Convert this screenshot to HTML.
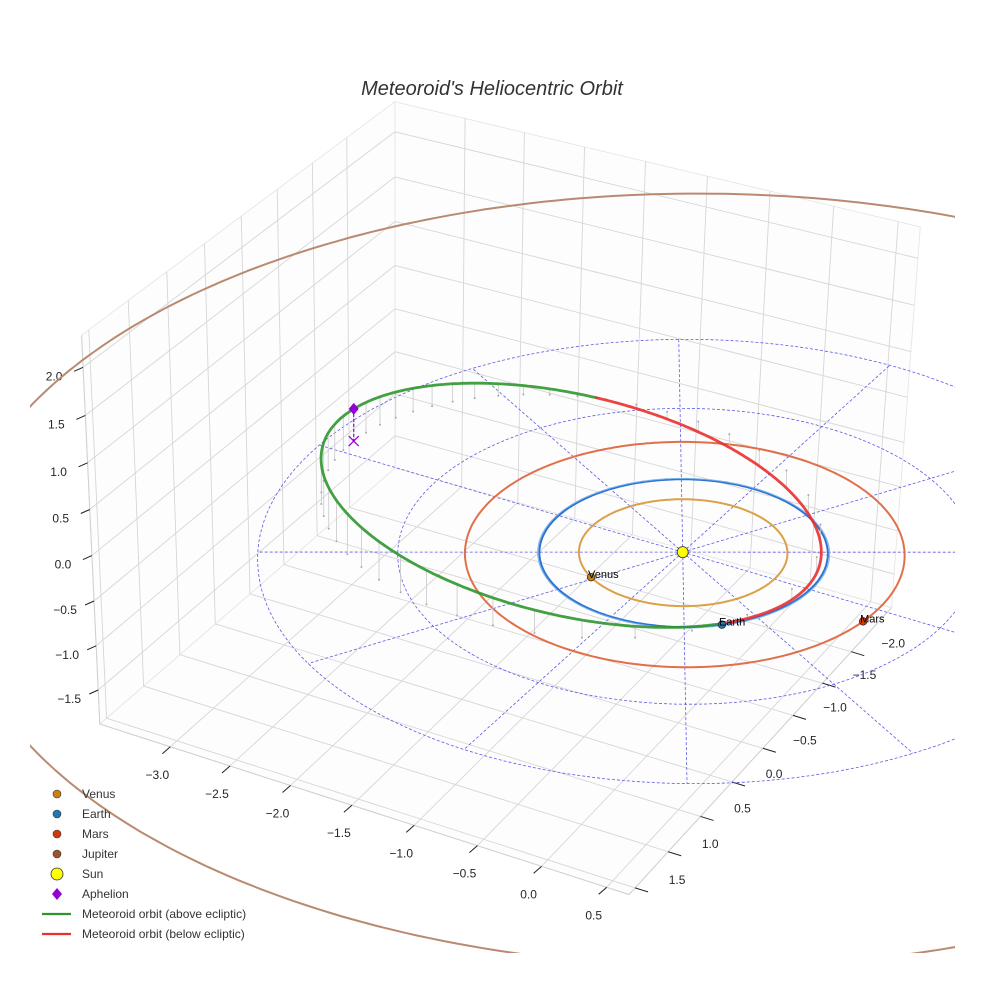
<!DOCTYPE html>
<html><head><meta charset="utf-8"><style>
html,body{margin:0;padding:0;background:#fff;overflow:hidden;}
svg{display:block;font-family:"Liberation Sans",sans-serif;}
</style></head><body>
<svg id="chart" width="984" height="984" viewBox="0 0 984 984" xmlns="http://www.w3.org/2000/svg">
<defs><clipPath id="clipArea"><rect x="30" y="0" width="925" height="953"/></clipPath></defs>
<rect width="984" height="984" fill="#fff"/>
<text x="492" y="95" text-anchor="middle" font-size="20" font-style="italic" fill="#333">Meteoroid's Heliocentric Orbit</text>
<g id="grid"></g>
<g id="axes"></g>
<g id="data" clip-path="url(#clipArea)"></g>
<g id="legend"></g>
</svg>
<script>
// ---- data ----
const xTicks=[-3,-2.5,-2,-1.5,-1,-0.5,0,0.5];
const yTicks=[-2,-1.5,-1,-0.5,0,0.5,1,1.5];
const zTicks=[-1.5,-1,-0.5,0,0.5,1,1.5,2];
const xRange=[-3.6,0.67], yRange=[-2.72,1.59], zRange=[-1.89,2.33];
const planetNames=["Venus","Earth","Mars","Jupiter"];
const planetRadii=[0.723,1.0,1.524,5.203];
const planetAngles=[122,45,7,160];
const gridRadii=[1,2,3];
const gridAngles=[0,30,60,90,120,150,180,210,240,270,300,330];
// meteoroid orbital elements: a (AU), e, i (deg), node (deg), arg perihelion (deg)
const orbitA=1.87, orbitE=0.519, orbitI=11, orbitNode=45, orbitArgPeri=-42;

// ---- camera calibration: axes box ----
const calib=[
 [xRange[0],yRange[1],zRange[0],100,725],[xRange[1],yRange[1],zRange[0],629,895],
 [xRange[1],yRange[0],zRange[0],893,606],[xRange[0],yRange[1],zRange[1],81,335],
 [xRange[1],yRange[0],zRange[1],921,228],[xRange[0],yRange[0],zRange[1],394,102],
 [-3,yRange[1],zRange[0],170,747],[0.5,yRange[1],zRange[0],606,887],
 [xRange[1],-2,zRange[0],850,652],[xRange[1],1.5,zRange[0],635,888],
 [xRange[0],yRange[1],2,84,366],[xRange[0],yRange[1],-1.5,99,690]];
// ---- camera calibration: ecliptic plane (radius, angle deg -> screen) ----
const eclCalib=[[0,0,679,552],
 [1,150,533,552],[1,330,820,552],[1,240,679,482],[1,60,679,625],
 [1.524,150,479,552],[1.524,330,912,552],[1.524,240,679,438],[1.524,60,679,662],
 [3,150,254,552],[3,240,679,348],[3,60,698,788],[5.203,240,680,190]];
const zPixelsPerUnit=92;
function solveLin(A,b){const n=b.length;for(let i=0;i<n;i++){let m=i;for(let k=i+1;k<n;k++)if(Math.abs(A[k][i])>Math.abs(A[m][i]))m=k;[A[i],A[m]]=[A[m],A[i]];[b[i],b[m]]=[b[m],b[i]];for(let k=i+1;k<n;k++){const f=A[k][i]/A[i][i];for(let j=i;j<n;j++)A[k][j]-=f*A[i][j];b[k]-=f*b[i];}}const x=new Array(n).fill(0);for(let i=n-1;i>=0;i--){let s=b[i];for(let j=i+1;j<n;j++)s-=A[i][j]*x[j];x[i]=s/A[i][i];}return x;}
function lsq(rows,n){const N=[...Array(n)].map(()=>new Array(n).fill(0)),c=new Array(n).fill(0);rows.forEach(([r,t])=>{for(let i=0;i<n;i++){c[i]+=r[i]*t;for(let j=0;j<n;j++)N[i][j]+=r[i]*r[j];}});return solveLin(N,c);}
const boxRows=[];calib.forEach(([X,Y,Z,u,v])=>{boxRows.push([[X,Y,Z,1,0,0,0,0,-u*X,-u*Y,-u*Z],u]);boxRows.push([[0,0,0,0,X,Y,Z,1,-v*X,-v*Y,-v*Z],v]);});
const P=lsq(boxRows,11);
function proj(x,y,z){const w=P[8]*x+P[9]*y+P[10]*z+1;return[(P[0]*x+P[1]*y+P[2]*z+P[3])/w,(P[4]*x+P[5]*y+P[6]*z+P[7])/w];}
const eRows=[];eclCalib.forEach(([r,a,u,v])=>{const X=r*Math.cos(a*Math.PI/180),Y=r*Math.sin(a*Math.PI/180);eRows.push([[X,Y,1,0,0,0,-u*X,-u*Y],u]);eRows.push([[0,0,0,X,Y,1,-v*X,-v*Y],v]);});
const H=lsq(eRows,8);
function dproj(x,y,z){const w=H[6]*x+H[7]*y+1;return[(H[0]*x+H[1]*y+H[2])/w,(H[3]*x+H[4]*y+H[5]-zPixelsPerUnit*(z||0))/w];}
const NS="http://www.w3.org/2000/svg";
function mk(tag,attrs,parent){const e=document.createElementNS(NS,tag);for(const k in attrs)e.setAttribute(k,attrs[k]);parent.appendChild(e);return e;}
function line3(a,b,st,parent){const p=proj(...a),q=proj(...b);return mk('line',{x1:p[0],y1:p[1],x2:q[0],y2:q[1],...st},parent);}
function dline3(a,b,st,parent){const p=dproj(...a),q=dproj(...b);return mk('line',{x1:p[0],y1:p[1],x2:q[0],y2:q[1],...st},parent);}
function pathFrom(pts){return pts.map((p,i)=>(i?'L':'M')+p[0].toFixed(1)+' '+p[1].toFixed(1)).join('');}
const gG=document.getElementById('grid'),gA=document.getElementById('axes'),gD=document.getElementById('data'),gL=document.getElementById('legend');
const [X0,X1]=xRange,[Y0,Y1]=yRange,[Z0,Z1]=zRange;
const gst={stroke:'#d6d6d6','stroke-width':0.9};
let el;
[[[X0,Y0,Z0],[X1,Y0,Z0],[X1,Y1,Z0],[X0,Y1,Z0]],[[X0,Y0,Z0],[X0,Y1,Z0],[X0,Y1,Z1],[X0,Y0,Z1]],[[X0,Y0,Z0],[X1,Y0,Z0],[X1,Y0,Z1],[X0,Y0,Z1]]].forEach(f=>{
 el=mk('path',{d:pathFrom(f.map(p=>proj(...p)))+'Z',fill:'#fdfdfd',stroke:'#e6e6e6','stroke-width':0.9},gG);
 
 
});
xTicks.forEach(x=>{
 el=line3([x,Y0,Z0],[x,Y1,Z0],gst,gG);
 el=line3([x,Y0,Z0],[x,Y0,Z1],gst,gG);
});
yTicks.forEach(y=>{
 el=line3([X0,y,Z0],[X1,y,Z0],gst,gG);
 el=line3([X0,y,Z0],[X0,y,Z1],gst,gG);
});
zTicks.forEach(z=>{
 el=line3([X0,Y0,z],[X0,Y1,z],gst,gG);
 el=line3([X0,Y0,z],[X1,Y0,z],gst,gG);
});
const ast={stroke:'#cfcfcf','stroke-width':1};
el=line3([X0,Y1,Z0],[X1,Y1,Z0],ast,gA);
el=line3([X1,Y0,Z0],[X1,Y1,Z0],ast,gA);
el=line3([X0,Y1,Z0],[X0,Y1,Z1],ast,gA);
function fmt(v){return (v<0?'\u2212':'')+Math.abs(v).toFixed(1);}
function tick(p,d,lo,txt,name){
 el=mk('line',{x1:p[0],y1:p[1],x2:p[0]+d[0],y2:p[1]+d[1],stroke:'#222','stroke-width':1},gA);
 
 el=mk('text',{x:p[0]+lo[0],y:p[1]+lo[1]+4,'text-anchor':'middle','font-size':12,fill:'#262626'},gA);
 el.textContent=txt;
}
xTicks.forEach(x=>tick(proj(x,Y1,Z0),[-8,7],[-13,28],fmt(x),'x'));
yTicks.forEach(y=>tick(proj(X1,y,Z0),[13,4],[42,-8],fmt(y),'y'));
zTicks.forEach(z=>tick(proj(X0,Y1,z),[-9,4],[-29,9],fmt(z),'z'));
// ---- data layer ----
function circlePts(r,n){const a=[];for(let k=0;k<=n;k++){const t=2*Math.PI*k/n;a.push(dproj(r*Math.cos(t),r*Math.sin(t),0));}return a;}
const dash={fill:'none',stroke:'#5b5be6','stroke-width':0.8,'stroke-dasharray':'3,2'};
gridRadii.forEach(r=>{el=mk('path',{d:pathFrom(circlePts(r,180)),...dash},gD);});
const rMax=Math.max(...gridRadii);
gridAngles.forEach(a=>{const t=a*Math.PI/180;el=dline3([0,0,0],[rMax*Math.cos(t),rMax*Math.sin(t),0],dash,gD);});
const orbitColors=['#dba048','#2f72d2','#e0704a','#b98a70'];
planetRadii.forEach((r,i)=>{el=mk('path',{d:pathFrom(circlePts(r,360)),fill:'none',stroke:orbitColors[i],'stroke-width':2},gD);});
el=mk('path',{d:pathFrom(circlePts(1.012,360)),fill:'none',stroke:'#7ab4ea','stroke-width':1},gD);

const d2r=Math.PI/180,inc=orbitI*d2r,Om=orbitNode*d2r,w=orbitArgPeri*d2r,pp=orbitA*(1-orbitE*orbitE);
function orbPos(nu){const r=pp/(1+orbitE*Math.cos(nu)),u=w+nu;return[r*(Math.cos(Om)*Math.cos(u)-Math.sin(Om)*Math.sin(u)*Math.cos(inc)),r*(Math.sin(Om)*Math.cos(u)+Math.cos(Om)*Math.sin(u)*Math.cos(inc)),r*Math.sin(u)*Math.sin(inc)];}
for(let k=0;k<44;k++){const M=2*Math.PI*k/44;let E=M;for(let j=0;j<30;j++)E=M+orbitE*Math.sin(E);
 const nu=2*Math.atan2(Math.sqrt(1+orbitE)*Math.sin(E/2),Math.sqrt(1-orbitE)*Math.cos(E/2));const q=orbPos(nu);
 el=dline3(q,[q[0],q[1],0],{stroke:'#c8c8c8','stroke-width':0.8},gD);
 const b=dproj(q[0],q[1],0);el=mk('circle',{cx:b[0],cy:b[1],r:1,fill:'#aaa'},gD);}
let runs=[],cur=null;
for(let k=0;k<=720;k++){const nu=-Math.PI+2*Math.PI*k/720,q=orbPos(nu),above=q[2]>=0;
 if(!cur||cur.above!==above){const prev=cur?cur.pts[cur.pts.length-1]:null;cur={above,pts:prev?[prev]:[]};runs.push(cur);}cur.pts.push(dproj(...q));}
runs.forEach(r=>{el=mk('path',{d:pathFrom(r.pts),fill:'none',stroke:r.above?'#2f962f':'#ea2f2f','stroke-width':2.8,'stroke-linecap':'round','stroke-opacity':0.9},gD);
 });
const ap=orbPos(Math.PI),apS=dproj(...ap),apG=dproj(ap[0],ap[1],0);
el=mk('line',{x1:apS[0],y1:apS[1],x2:apG[0],y2:apG[1],stroke:'#9400d3','stroke-width':1.2,'stroke-dasharray':'3,2'},gD);
el=mk('path',{d:`M${apS[0]} ${apS[1]-6}L${apS[0]+5} ${apS[1]}L${apS[0]} ${apS[1]+6}L${apS[0]-5} ${apS[1]}Z`,fill:'#9400d3'},gD);
el=mk('path',{d:`M${apG[0]-5} ${apG[1]-5}L${apG[0]+5} ${apG[1]+5}M${apG[0]+5} ${apG[1]-5}L${apG[0]-5} ${apG[1]+5}`,stroke:'#9400d3','stroke-width':1.2},gD);
const planetColors=['#c8800f','#1f77b4','#d03a0a','#a0522d'];
planetRadii.forEach((r,i)=>{const t=planetAngles[i]*d2r,s=dproj(r*Math.cos(t),r*Math.sin(t),0);
 el=mk('circle',{cx:s[0],cy:s[1],r:3.8,fill:planetColors[i],stroke:'#222','stroke-width':0.7},gD);
 el=mk('text',{x:s[0]-3,y:s[1]+1,'font-size':11,fill:'#000'},gD);el.textContent=planetNames[i];});
const sun=dproj(0,0,0);
el=mk('circle',{cx:sun[0],cy:sun[1],r:5.5,fill:'#ffff00',stroke:'#333','stroke-width':0.8},gD);
// ---- legend ----
const legNames=["Venus","Earth","Mars","Jupiter","Sun","Aphelion","Meteoroid orbit (above ecliptic)","Meteoroid orbit (below ecliptic)"];
legNames.forEach((n,i)=>{const y=794+20*i;let m;
 if(i<4){m=mk('circle',{cx:57,cy:y,r:4,fill:planetColors[i],stroke:'#333','stroke-width':0.6},gL);}
 else if(i===4){m=mk('circle',{cx:57,cy:y,r:6,fill:'#ffff00',stroke:'#333','stroke-width':0.8},gL);}
 else if(i===5){m=mk('path',{d:`M57 ${y-6}L62 ${y}L57 ${y+6}L52 ${y}Z`,fill:'#9400d3'},gL);}
 else{m=mk('line',{x1:42,y1:y,x2:71,y2:y,stroke:i===6?'#2f962f':'#ea2f2f','stroke-width':2.2},gL);}
 
 const t=mk('text',{x:82,y:y+4,'font-size':12,fill:'#333'},gL);t.textContent=n;
 });
</script>
</body></html>
